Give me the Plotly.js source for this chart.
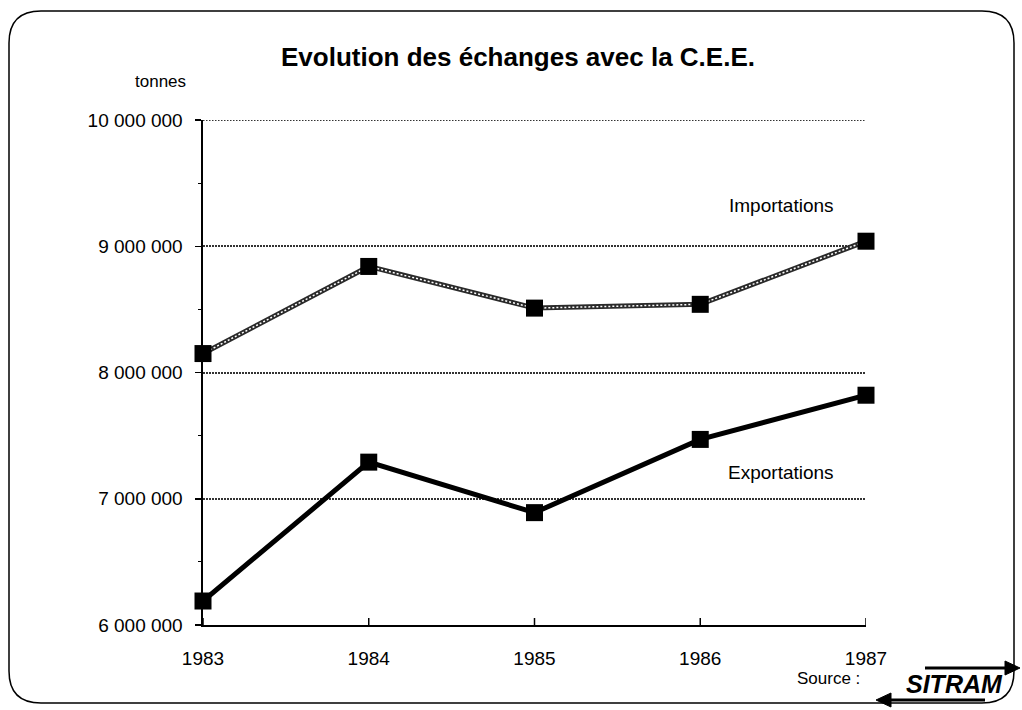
<!DOCTYPE html>
<html>
<head>
<meta charset="utf-8">
<script src="https://cdn.plot.ly/plotly-3.0.1.min.js"></script>
<style>
html,body{margin:0;padding:0;background:#fff;}
#chart{width:1022px;height:710px;}
</style>
</head>
<body>
<div id="chart"></div>
<script>
// ---- data ----
const years = [1983, 1984, 1985, 1986, 1987];
const yearLabels = ["1983", "1984", "1985", "1986", "1987"];
const importations = [8150000, 8840000, 8510000, 8540000, 9040000];
const exportations = [6190000, 7290000, 6890000, 7470000, 7820000];
const yTickVals = [6000000, 7000000, 8000000, 9000000, 10000000];
const yTickText = ["6 000 000", "7 000 000", "8 000 000", "9 000 000", "10 000 000"];

// ---- layout helpers (pixel -> paper) ----
const L = 203, R = 866, T = 120, B = 625;
const W = R - L, H = B - T;
function px(x){ return (x - L) / W; }
function py(y){ return (B - y) / H; }

const FONT = "Liberation Sans, Arial, Helvetica, sans-serif";

// rounded frame
const fx0 = px(9), fx1 = px(1014), fyb = py(703), fyt = py(11);
const rx = 32 / W, ry = 32 / H;
const framePath = `M ${fx0+rx},${fyt} L ${fx1-rx},${fyt} Q ${fx1},${fyt} ${fx1},${fyt-ry} ` +
  `L ${fx1},${fyb+ry} Q ${fx1},${fyb} ${fx1-rx},${fyb} L ${fx0+rx},${fyb} ` +
  `Q ${fx0},${fyb} ${fx0},${fyb+ry} L ${fx0},${fyt-ry} Q ${fx0},${fyt} ${fx0+rx},${fyt} Z`;

const GRID = {color:'#333', width:2, dash:'1.5px,1.5px'};

const shapes = [
  {type:'path', xref:'paper', yref:'paper', path: framePath, line:{color:'#000', width:1.5}, layer:'below'},
  // top gridline (at the upper edge of the plot area)
  {type:'line', xref:'x', yref:'y', x0:years[0], x1:years[years.length-1], y0:yTickVals[yTickVals.length-1], y1:yTickVals[yTickVals.length-1], line:GRID, layer:'below'}
];
// crossing ticks on the x axis
years.forEach(yr => {
  shapes.push({type:'line', xref:'x', yref:'y', ysizemode:'pixel', yanchor:yTickVals[0],
    x0:yr, x1:yr, y0:-7, y1:7, line:{color:'#000', width:1.5}});
});
// SITRAM arrows
shapes.push({type:'line', xref:'paper', yref:'paper', x0:px(925), x1:px(1008), y0:py(668), y1:py(668), line:{color:'#000', width:3}});
shapes.push({type:'path', xref:'paper', yref:'paper',
  path:`M ${px(1020)},${py(668)} L ${px(1005)},${py(661)} L ${px(1005)},${py(675)} Z`, fillcolor:'#000', line:{color:'#000', width:1}});
shapes.push({type:'line', xref:'paper', yref:'paper', x0:px(890), x1:px(985), y0:py(700), y1:py(700), line:{color:'#000', width:3}});
shapes.push({type:'path', xref:'paper', yref:'paper',
  path:`M ${px(876)},${py(700)} L ${px(891)},${py(693)} L ${px(891)},${py(707)} Z`, fillcolor:'#000', line:{color:'#000', width:1}});

const traces = [
  {x: years, y: importations, mode:'lines', line:{color:'#2a2a2a', width:5}, cliponaxis:false, hoverinfo:'skip', showlegend:false},
  {x: years, y: importations, mode:'lines+markers', name:'Importations',
   line:{color:'#ffffff', width:1.5, dash:'2px,2px'},
   marker:{symbol:'square', size:17, color:'#000'}, cliponaxis:false, showlegend:false},
  {x: years, y: exportations, mode:'lines+markers', name:'Exportations',
   line:{color:'#000', width:5},
   marker:{symbol:'square', size:17, color:'#000'}, cliponaxis:false, showlegend:false}
];

function note(text, x, y, size, extra){
  return Object.assign({text:text, xref:'paper', yref:'paper', x:px(x), y:py(y),
    xanchor:'center', yanchor:'middle', showarrow:false, font:{size:size, family:FONT, color:'#000'}}, extra || {});
}

const layout = {
  width:1022, height:710,
  margin:{l:L, r:1022-R, t:T, b:710-B},
  paper_bgcolor:'#fff', plot_bgcolor:'#fff',
  font:{family:FONT, color:'#000', size:19},
  showlegend:false,
  title:{text:'<b>Evolution des échanges avec la C.E.E.</b>', x:px(518), xref:'paper', xanchor:'center',
         y:1-57/710, yref:'container', yanchor:'middle', font:{family:FONT, size:26, color:'#000'}},
  xaxis:{range:[1983,1987], tickvals:years, ticktext:yearLabels, ticks:'', showgrid:false, zeroline:false,
         showline:true, linecolor:'#000', linewidth:2, layer:'below traces', ticklabelstandoff:15,
         tickfont:{family:FONT, size:19, color:'#000'}, fixedrange:true},
  yaxis:{range:[6000000,10000000], tickvals:yTickVals, ticktext:yTickText, ticks:'outside', ticklen:6, tickwidth:1.5,
         tickcolor:'#000', showline:true, linecolor:'#000', linewidth:2.5, zeroline:false,
         showgrid:true, gridcolor:GRID.color, gridwidth:GRID.width, griddash:GRID.dash, layer:'below traces',
         ticklabelstandoff:8, tickfont:{family:FONT, size:19, color:'#000'},
         minor:{dtick:500000, tick0:6000000, ticks:'outside', ticklen:3, tickcolor:'#000', tickwidth:1, showgrid:false},
         fixedrange:true},
  shapes: shapes,
  annotations:[
    note('tonnes', 160, 82, 17),
    note('Importations', 781, 205, 19),
    note('Exportations', 781, 472, 19),
    note('Source :', 828, 678, 17),
    note('<b><i>SITRAM</i></b>', 954, 684, 25)
  ]
};

Plotly.newPlot('chart', traces, layout, {staticPlot:true, displayModeBar:false});
</script>
</body>
</html>
